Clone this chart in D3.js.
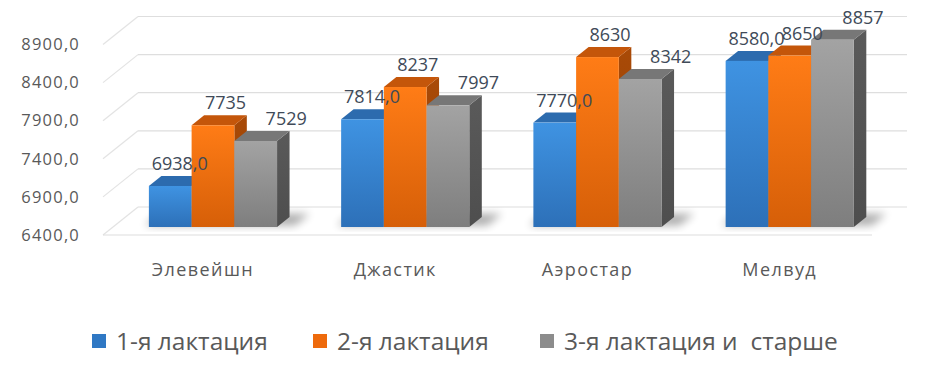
<!DOCTYPE html>
<html>
<head>
<meta charset="utf-8">
<script src="https://cdn.jsdelivr.net/npm/d3@7"></script>
<style>
  body { margin: 0; background: #fff; }
  svg text { font-family: "Open Sans", "Noto Sans", sans-serif; }
</style>
</head>
<body>
<svg id="chart" width="934" height="372"></svg>
<script>
// data
var categories = ['Элевейшн', 'Джастик', 'Аэростар', 'Мелвуд'];
var seriesNames = ['1-я лактация', '2-я лактация', '3-я лактация и  старше'];
var lact1 = [6938, 7814, 7770, 8580];
var lact2 = [7735, 8237, 8630, 8650];
var lact3 = [7529, 7997, 8342, 8857];
var labelDecimals = [1, 0, 0];
var yTicks = [6400, 6900, 7400, 7900, 8400, 8900];

var seriesValues = [lact1, lact2, lact3];

// colours: front top, front bottom, top face, side face
var colors = [
  {front0: '#3f93e2', front1: '#2d70b8', top: '#2c6bae', side: '#245c98', legend: '#2f78c4'},
  {front0: '#ff7c16', front1: '#d65f08', top: '#c4560a', side: '#a94a07', legend: '#ee6a0c'},
  {front0: '#a3a3a3', front1: '#7e7e7e', top: '#777777', side: '#5a5a5a', legend: '#8c8c8c'}
];

var svg = d3.select('#chart');
var defs = svg.append('defs');

// 3D depth of the floor (front edge -> back wall)
var depth = {dx: 35, dy: -28};
var barFront = 8 / 28, barDepth = 10 / 28;

var x = d3.scaleBand()
  .domain(categories)
  .range([103, 872])
  .paddingInner(1 / 3)
  .paddingOuter(1 / 6)
  .align(0.56);

var xs = d3.scaleBand()
  .domain(d3.range(seriesNames.length))
  .range([0, x.bandwidth()]);

var y = d3.scaleLinear()
  .domain([6400, 8900])
  .range([235, 44.5]);

function pt(xf, v, f) {
  return [xf + f * depth.dx, y(v) + f * depth.dy];
}

colors.forEach(function(c, i) {
  var g = defs.append('linearGradient')
    .attr('id', 'front' + i)
    .attr('x1', 0).attr('y1', 0).attr('x2', 0).attr('y2', 1);
  g.append('stop').attr('offset', '0%').attr('stop-color', c.front0);
  g.append('stop').attr('offset', '100%').attr('stop-color', c.front1);
  var s = defs.append('linearGradient')
    .attr('id', 'side' + i)
    .attr('x1', 0).attr('y1', 0).attr('x2', 0).attr('y2', 1);
  s.append('stop').attr('offset', '0%').attr('stop-color', c.side);
  s.append('stop').attr('offset', '100%').attr('stop-color', d3.color(c.side).darker(0.4));
});

defs.append('filter').attr('id', 'blur')
  .attr('x', '-50%').attr('y', '-50%').attr('width', '200%').attr('height', '200%')
  .append('feGaussianBlur').attr('stdDeviation', 4);

// grid: back wall lines and left wall diagonals
var grid = svg.append('g');
yTicks.forEach(function(v) {
  var a = pt(x.range()[0], v, 0), b = pt(x.range()[0], v, 1), c = pt(x.range()[1], v, 1);
  grid.append('line')
    .attr('x1', a[0]).attr('y1', a[1]).attr('x2', b[0]).attr('y2', b[1])
    .attr('stroke', '#e3e3e3').attr('stroke-width', 1.2);
  grid.append('line')
    .attr('x1', b[0]).attr('y1', b[1]).attr('x2', c[0]).attr('y2', c[1])
    .attr('stroke', '#dedede').attr('stroke-width', 1.2);
});
grid.append('line')
  .attr('x1', x.range()[0]).attr('y1', y(6400)).attr('x2', x.range()[1]).attr('y2', y(6400))
  .attr('stroke', '#dedede').attr('stroke-width', 1.2);

// y axis
var yAxis = d3.axisLeft(y)
  .tickValues(yTicks)
  .tickSize(0)
  .tickPadding(23)
  .tickFormat(function(d) { return d3.format('.1f')(d).replace('.', ','); });

svg.append('g')
  .attr('transform', 'translate(' + x.range()[0] + ',0)')
  .call(yAxis)
  .call(function(g) { g.select('.domain').remove(); })
  .selectAll('text')
  .attr('fill', '#595959')
  .attr('font-size', 16.5)
  .attr('letter-spacing', 1.2)
  .attr('font-family', '"Open Sans", sans-serif');

// shadows on floor
var shadows = svg.append('g');
categories.forEach(function(cat) {
  var x0 = x(cat), x1 = x(cat) + x.bandwidth();
  var p = [pt(x0 - 6, 6400, barFront + 0.05), pt(x1 + 16, 6400, barFront + 0.05),
           pt(x1 + 16, 6400, barFront + barDepth + 0.12), pt(x0 - 6, 6400, barFront + barDepth + 0.12)];
  shadows.append('polygon')
    .attr('points', p.map(function(q) { return q.join(','); }).join(' '))
    .attr('fill', '#000').attr('opacity', 0.32)
    .attr('filter', 'url(#blur)');
});

// bars, painted left to right
var bars = svg.append('g');
categories.forEach(function(cat, ci) {
  seriesValues.forEach(function(vals, si) {
    var v = vals[ci];
    var x0 = x(cat) + xs(si), x1 = x0 + xs.bandwidth();
    var fb = barFront + barDepth;
    var side = [pt(x1, v, barFront), pt(x1, v, fb), pt(x1, 6400, fb), pt(x1, 6400, barFront)];
    var top = [pt(x0, v, barFront), pt(x1, v, barFront), pt(x1, v, fb), pt(x0, v, fb)];
    var g = bars.append('g');
    g.append('polygon')
      .attr('points', side.map(function(q) { return q.join(','); }).join(' '))
      .attr('fill', 'url(#side' + si + ')');
    g.append('polygon')
      .attr('points', top.map(function(q) { return q.join(','); }).join(' '))
      .attr('fill', colors[si].top);
    var f0 = pt(x0, v, barFront), f1 = pt(x1, 6400, barFront);
    g.append('rect')
      .attr('x', f0[0]).attr('y', f0[1])
      .attr('width', f1[0] - f0[0]).attr('height', f1[1] - f0[1])
      .attr('fill', 'url(#front' + si + ')');
  });
});

// value labels
var labelDx = [-3, 0, 18];
var labels = svg.append('g');
categories.forEach(function(cat, ci) {
  seriesValues.forEach(function(vals, si) {
    var v = vals[ci];
    var xc = x(cat) + xs(si) + xs.bandwidth() / 2;
    var p = pt(xc, v, barFront + barDepth);
    labels.append('text')
      .attr('x', p[0] + labelDx[si])
      .attr('y', p[1] - 6)
      .attr('text-anchor', 'middle')
      .attr('fill', '#404a58')
      .attr('font-size', 18)
      .text(d3.format('.' + labelDecimals[si] + 'f')(v).replace('.', ','));
  });
});

// category labels
svg.append('g').selectAll('text')
  .data(categories)
  .join('text')
  .attr('x', function(d) { return x(d) + x.bandwidth() / 2; })
  .attr('y', 276)
  .attr('text-anchor', 'middle')
  .attr('fill', '#595959')
  .attr('font-size', 18)
  .attr('letter-spacing', 1.4)
  .text(function(d) { return d; });

// legend
var legendX = [92, 313, 540];
var legend = svg.append('g');
seriesNames.forEach(function(name, i) {
  legend.append('rect')
    .attr('x', legendX[i]).attr('y', 334)
    .attr('width', 14).attr('height', 14)
    .attr('fill', colors[i].legend);
  legend.append('text')
    .attr('x', legendX[i] + 24)
    .attr('y', 350)
    .attr('fill', '#595959')
    .attr('font-size', 24.5)
    .attr('xml:space', 'preserve')
    .style('white-space', 'pre')
    .text(name);
});
</script>
</body>
</html>
